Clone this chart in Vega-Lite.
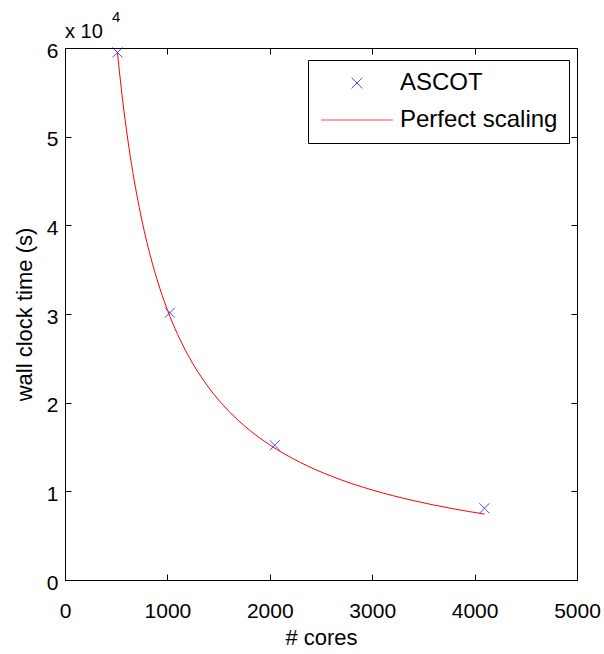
{
  "$schema": "https://vega.github.io/schema/vega-lite/v6.json",
  "width": 512,
  "height": 532,
  "autosize": {"type": "none"},
  "padding": {"left": 65, "top": 48, "right": 27, "bottom": 74},
  "background": "white",
  "datasets": {
    "ascot": [
      {"cores": 512, "time": 59500, "series": "ASCOT"},
      {"cores": 1024, "time": 30150, "series": "ASCOT"},
      {"cores": 2048, "time": 15200, "series": "ASCOT"},
      {"cores": 4096, "time": 8090, "series": "ASCOT"}
    ],
    "perfect": [
      {"cores": 512, "time": 59500, "series": "Perfect scaling"},
      {"cores": 550, "time": 55389, "series": "Perfect scaling"},
      {"cores": 600, "time": 50773, "series": "Perfect scaling"},
      {"cores": 650, "time": 46868, "series": "Perfect scaling"},
      {"cores": 700, "time": 43520, "series": "Perfect scaling"},
      {"cores": 750, "time": 40619, "series": "Perfect scaling"},
      {"cores": 800, "time": 38080, "series": "Perfect scaling"},
      {"cores": 900, "time": 33849, "series": "Perfect scaling"},
      {"cores": 1000, "time": 30464, "series": "Perfect scaling"},
      {"cores": 1100, "time": 27695, "series": "Perfect scaling"},
      {"cores": 1200, "time": 25387, "series": "Perfect scaling"},
      {"cores": 1400, "time": 21760, "series": "Perfect scaling"},
      {"cores": 1600, "time": 19040, "series": "Perfect scaling"},
      {"cores": 1800, "time": 16924, "series": "Perfect scaling"},
      {"cores": 2000, "time": 15232, "series": "Perfect scaling"},
      {"cores": 2300, "time": 13245, "series": "Perfect scaling"},
      {"cores": 2600, "time": 11717, "series": "Perfect scaling"},
      {"cores": 3000, "time": 10155, "series": "Perfect scaling"},
      {"cores": 3400, "time": 8960, "series": "Perfect scaling"},
      {"cores": 3800, "time": 8017, "series": "Perfect scaling"},
      {"cores": 4096, "time": 7437, "series": "Perfect scaling"}
    ],
    "note": [{"label": "x 10", "sup": "4"}]
  },
  "config": {
    "view": {"stroke": "black", "strokeWidth": 1},
    "font": "Liberation Sans",
    "axis": {
      "grid": false,
      "domainColor": "black",
      "tickColor": "black",
      "labelColor": "black",
      "titleColor": "black",
      "labelFont": "Liberation Sans",
      "titleFont": "Liberation Sans",
      "labelFontSize": 21,
      "titleFontSize": 22,
      "titleFontWeight": "normal",
      "tickSize": -6
    },
    "legend": {
      "orient": "none",
      "legendX": 243,
      "legendY": 12,
      "direction": "vertical",
      "strokeColor": "black",
      "fillColor": "white",
      "padding": 11,
      "labelFont": "Liberation Sans",
      "labelFontSize": 24,
      "labelColor": "black",
      "symbolSize": 81,
      "symbolStrokeWidth": 1,
      "rowPadding": 13,
      "symbolOffset": 26,
      "labelOffset": 31
    }
  },
  "layer": [
    {
      "data": {"name": "ascot"},
      "mark": {"type": "point", "filled": false, "strokeWidth": 1, "size": 70, "clip": false},
      "encoding": {
        "x": {
          "field": "cores", "type": "quantitative",
          "scale": {"domain": [0, 5000], "nice": false},
          "axis": {"orient": "bottom", "title": "# cores", "format": "d", "values": [0, 1000, 2000, 3000, 4000, 5000], "labelPadding": 26, "titlePadding": 6, "labelFlush": false}
        },
        "y": {
          "field": "time", "type": "quantitative",
          "scale": {"domain": [0, 60000], "nice": false},
          "axis": {"orient": "left", "title": "wall clock time (s)", "values": [0, 10000, 20000, 30000, 40000, 50000, 60000], "labelExpr": "datum.value / 10000", "labelPadding": 13, "labelOffset": 3, "titlePadding": 10, "labelFlush": false}
        },
        "color": {
          "field": "series", "type": "nominal",
          "scale": {"domain": ["ASCOT", "Perfect scaling"], "range": ["#0000ff", "#ff0000"]},
          "legend": {"title": null}
        },
        "shape": {
          "field": "series", "type": "nominal",
          "scale": {"domain": ["ASCOT", "Perfect scaling"], "range": ["M-1.2,-1.2L1.2,1.2M-1.2,1.2L1.2,-1.2", "M-8,0L8,0"]},
          "legend": {"title": null}
        }
      }
    },
    {
      "data": {"name": "perfect"},
      "mark": {"type": "line", "strokeWidth": 1, "interpolate": "monotone"},
      "encoding": {
        "x": {
          "field": "cores", "type": "quantitative",
          "axis": {"orient": "top", "title": null, "labels": false, "domain": false, "values": [0, 1000, 2000, 3000, 4000, 5000]}
        },
        "y": {
          "field": "time", "type": "quantitative",
          "axis": {"orient": "right", "title": null, "labels": false, "domain": false, "values": [0, 10000, 20000, 30000, 40000, 50000, 60000]}
        },
        "color": {"field": "series", "type": "nominal", "legend": {"title": null}}
      }
    },
    {
      "data": {"name": "note"},
      "mark": {"type": "text", "align": "left", "baseline": "alphabetic", "fontSize": 20, "font": "Liberation Sans", "color": "black", "dx": 0, "dy": -10, "clip": false},
      "encoding": {
        "x": {"datum": 0, "type": "quantitative", "axis": null},
        "y": {"datum": 60000, "type": "quantitative", "axis": null},
        "text": {"field": "label"}
      }
    },
    {
      "data": {"name": "note"},
      "mark": {"type": "text", "align": "left", "baseline": "alphabetic", "fontSize": 15, "font": "Liberation Sans", "color": "black", "dx": 47, "dy": -26, "clip": false},
      "encoding": {
        "x": {"datum": 0, "type": "quantitative", "axis": null},
        "y": {"datum": 60000, "type": "quantitative", "axis": null},
        "text": {"field": "sup"}
      }
    }
  ]
}
